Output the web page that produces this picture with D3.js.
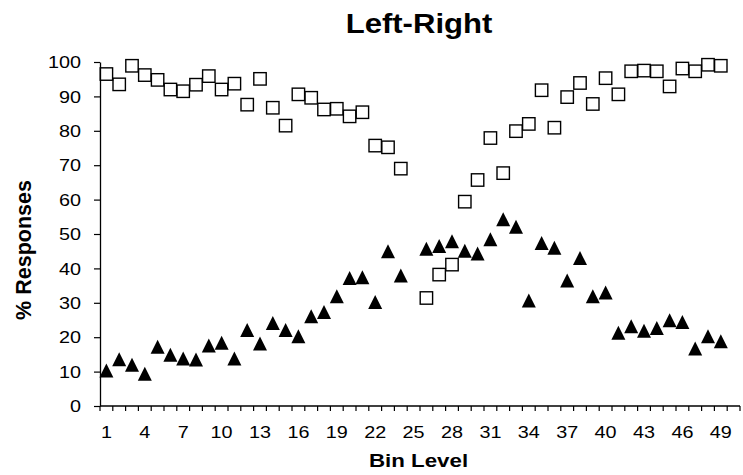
<!DOCTYPE html>
<html>
<head>
<meta charset="utf-8">
<script src="https://cdn.jsdelivr.net/npm/d3@7"></script>
<style>
  body { margin: 0; background: #fff; }
  svg { display: block; }
  text { font-family: "Liberation Sans", Arial, sans-serif; fill: #000; }
</style>
</head>
<body>
<svg id="chart" width="743" height="475"></svg>
<script>
// ---- Data ----
const bins = d3.range(1, 51);               // category bins 1..50
const tickLabels = d3.range(1, 50, 3);      // 1,4,...,49
const yTicks = d3.range(0, 101, 10);
// Square series (open squares); null = no data
const squareValues = [96.5, 93.5, 98.9, 96.2, 94.8, 92.0, 91.5, 93.4, 95.9, 92.0,
  93.7, 87.6, 95.1, 86.7, 81.5, 90.6, 89.6, 86.2, 86.4, 84.2,
  85.4, 75.7, 75.2, 69.0, null, 31.4, 38.2, 41.1, 59.4, 65.7,
  77.9, 67.7, 79.9, 82.0, 91.8, 80.9, 89.8, 93.9, 87.8, 95.3,
  90.6, 97.3, 97.5, 97.3, 92.9, 98.1, 97.3, 99.2, 98.9, null];
// Triangle series (filled triangles)
const triangleValues = [10.3, 13.6, 12.0, 9.4, 17.2, 14.9, 13.8, 13.5, 17.6, 18.4,
  13.8, 22.1, 18.2, 24.1, 22.1, 20.3, 26.1, 27.3, 31.9, 37.2,
  37.4, 30.2, 45.0, 37.9, null, 45.7, 46.5, 47.9, 45.1, 44.3,
  48.5, 54.3, 52.1, 30.7, 47.4, 46.0, 36.5, 43.0, 31.9, 33.0,
  21.3, 23.2, 21.9, 22.7, 24.9, 24.4, 16.7, 20.3, 18.8, null];

const title = "Left-Right";
const xTitle = "Bin Level";
const yTitle = "% Responses";

// ---- Layout ----
const svg = d3.select("#chart");
const margin = { left: 100, top: 62, right: 3, bottom: 69 };
const W = 743, H = 475;
const plotR = W - margin.right, plotB = H - margin.bottom;

const x = d3.scaleBand().domain(bins).range([margin.left, plotR]).padding(0);
const y = d3.scaleLinear().domain([0, 100]).range([plotB, margin.top]);

const tickFont = 16.5, tickStretch = 1.2;

// Y axis
const yAxis = svg.append("g").attr("transform", `translate(${margin.left},0)`)
  .call(d3.axisLeft(y).tickValues(yTicks).tickSize(6).tickSizeOuter(0));
yAxis.select(".domain").attr("stroke", "#000").attr("stroke-width", 1.3);
yAxis.selectAll(".tick line").attr("stroke", "#000").attr("stroke-width", 1.2);
yAxis.selectAll(".tick text")
  .attr("x", null).attr("dy", "0.34em")
  .attr("transform", `translate(-19,0) scale(${tickStretch},1)`)
  .attr("font-size", tickFont).attr("font-family", "Liberation Sans, Arial, sans-serif")
  .attr("fill", "#000").attr("text-anchor", "end");

// X axis (ticks at band boundaries)
const xg = svg.append("g").attr("transform", `translate(0,${plotB})`);
xg.append("line").attr("x1", margin.left).attr("x2", plotR).attr("y1", 0).attr("y2", 0)
  .attr("stroke", "#000").attr("stroke-width", 1.3);
const boundaries = bins.map(b => x(b)).concat([x(bins[bins.length - 1]) + x.bandwidth()]);
xg.selectAll("line.tk").data(boundaries).enter().append("line").attr("class", "tk")
  .attr("x1", d => d).attr("x2", d => d).attr("y1", 0).attr("y2", 5)
  .attr("stroke", "#000").attr("stroke-width", 1.2);
xg.selectAll("text.tl").data(tickLabels).enter().append("text").attr("class", "tl")
  .attr("transform", d => `translate(${x(d) + x.bandwidth() / 2},32) scale(${tickStretch},1)`)
  .attr("text-anchor", "middle").attr("font-size", tickFont).text(d => d);

// Titles
svg.append("text").attr("transform", "translate(419,33) scale(1.11,1)").attr("text-anchor", "middle")
  .attr("font-size", 28).attr("font-weight", "bold").text(title);
svg.append("text").attr("transform", "translate(418.5,467) scale(1.2,1)").attr("text-anchor", "middle")
  .attr("font-size", 18.6).attr("font-weight", "bold").text(xTitle);
svg.append("text").attr("transform", "translate(31,250) rotate(-90)").attr("text-anchor", "middle")
  .attr("font-size", 21.5).attr("font-weight", "bold").text(yTitle);

// Markers
const cx = d => x(d) + x.bandwidth() / 2;
const sq = 12.4;
svg.append("g").selectAll("rect").data(bins.filter((b, i) => squareValues[i] != null)).enter()
  .append("rect")
  .attr("x", b => cx(b) - sq / 2).attr("y", b => y(squareValues[b - 1]) - sq / 2)
  .attr("width", sq).attr("height", sq)
  .attr("fill", "none").attr("stroke", "#000").attr("stroke-width", 1.4);

const tw = 14, th = 14;
svg.append("g").selectAll("path").data(bins.filter((b, i) => triangleValues[i] != null)).enter()
  .append("path")
  .attr("d", b => {
    const px = cx(b), py = y(triangleValues[b - 1]);
    return `M${px},${py - th / 2}L${px + tw / 2},${py + th / 2}L${px - tw / 2},${py + th / 2}Z`;
  })
  .attr("fill", "#000");
</script>
</body>
</html>
